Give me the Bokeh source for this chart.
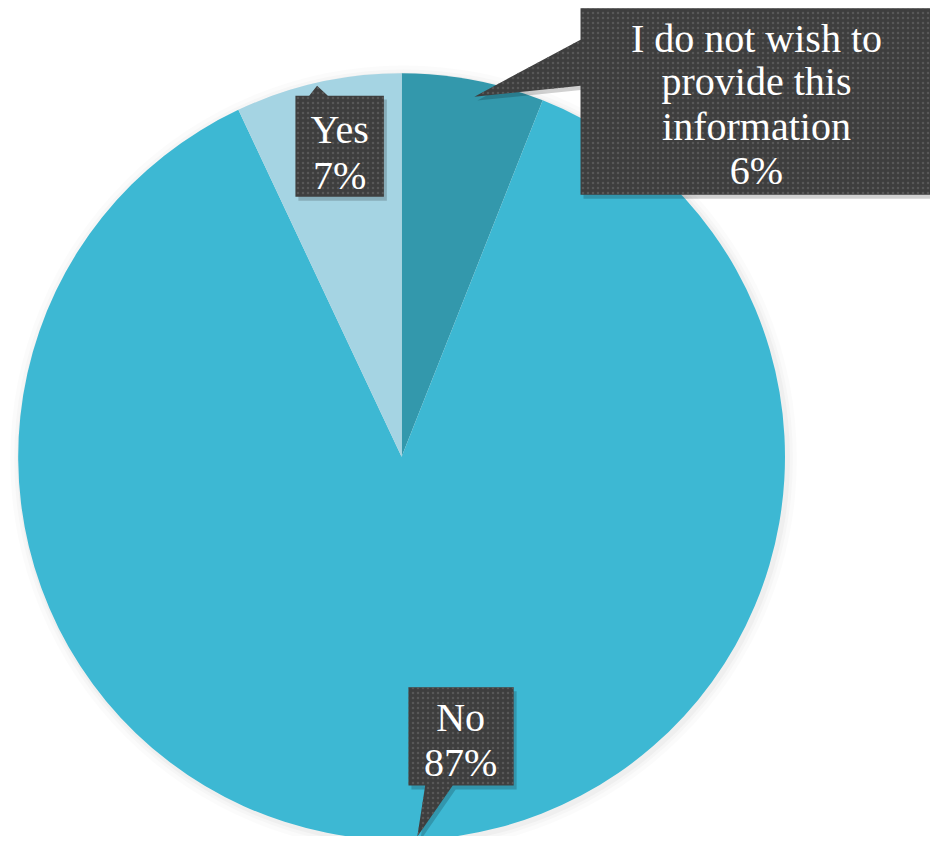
import numpy as np
from bokeh.plotting import figure
from bokeh.models import Range1d, ColumnDataSource
from bokeh.core.properties import value
from bokeh.embed import file_html
from bokeh.resources import INLINE

# ---- data ----
categories = ["I do not wish to provide this information", "No", "Yes"]
shares = [6, 87, 7]           # percent
colors = ["#3398AC", "#3DB8D3", "#A5D4E3"]
label_lines = [
    ["I do not wish to", "provide this", "information", "6%"],
    ["No", "87%"],
    ["Yes", "7%"],
]

W, H = 930, 836
SW, SH = 946, 852  # reference layout space


def sy(y):
    return SH - y


p = figure(width=W, height=H, output_backend="svg", toolbar_location=None,
           x_range=Range1d(0, SW), y_range=Range1d(0, SH),
           min_border=0, outline_line_color=None)
p.axis.visible = False
p.grid.visible = False
p.background_fill_color = "white"

cx, cy, r = 408, sy(465), 390

# soft shadow around the pie
for k, a in [(10, 0.03), (6, 0.04), (3, 0.06)]:
    p.circle(x=cx + 2, y=cy - 2, radius=r + k, fill_color="#808080",
             fill_alpha=a, line_color=None)

# pie wedges
vals = np.array(shares, dtype=float)
frac = vals / vals.sum()
ends = np.pi / 2 - 2 * np.pi * np.cumsum(frac)
starts = np.concatenate([[np.pi / 2], ends[:-1]])
src = ColumnDataSource(dict(cat=categories, start=starts, end=ends, color=colors))
p.wedge(x=cx, y=cy, radius=r, start_angle="start", end_angle="end",
        direction="clock", fill_color="color", line_color=None, source=src)

# ---- callouts (layout positions in reference px) ----
callouts = [
    dict(poly=[(590, 8), (946, 8), (946, 198), (590, 198), (590, 87), (482, 98), (590, 40)],
         tx=769, ty=[39, 83, 128, 173]),
    dict(poly=[(415, 700), (522, 700), (522, 800), (460, 800), (424, 852), (432, 800), (415, 800)],
         tx=468, ty=[731, 777]),
    dict(poly=[(300, 97), (314, 97), (322, 87), (333, 97), (390, 97), (390, 200), (300, 200)],
         tx=345, ty=[131, 178]),
]

for i, c in enumerate(callouts):
    xs = [pt[0] for pt in c["poly"]]
    ys = [sy(pt[1]) for pt in c["poly"]]
    # shadow
    p.patch(x=[x + 3 for x in xs], y=[y - 4 for y in ys], fill_color="#000000",
            fill_alpha=0.18, line_color=None)
    p.patch(x=xs, y=ys, fill_color="#3E3E3E", line_color=None,
            hatch_pattern="dot", hatch_color="#5E5E5E", hatch_scale=5,
            hatch_weight=1.5, hatch_alpha=0.8)
    lines = label_lines[i]
    p.text(x=[c["tx"]] * len(lines), y=[sy(t) for t in c["ty"]], text=lines,
           text_font=value("Liberation Serif"), text_font_size="40px",
           text_color="white", text_align="center", text_baseline="middle")

open("out.html", "w").write(file_html(p, INLINE))
